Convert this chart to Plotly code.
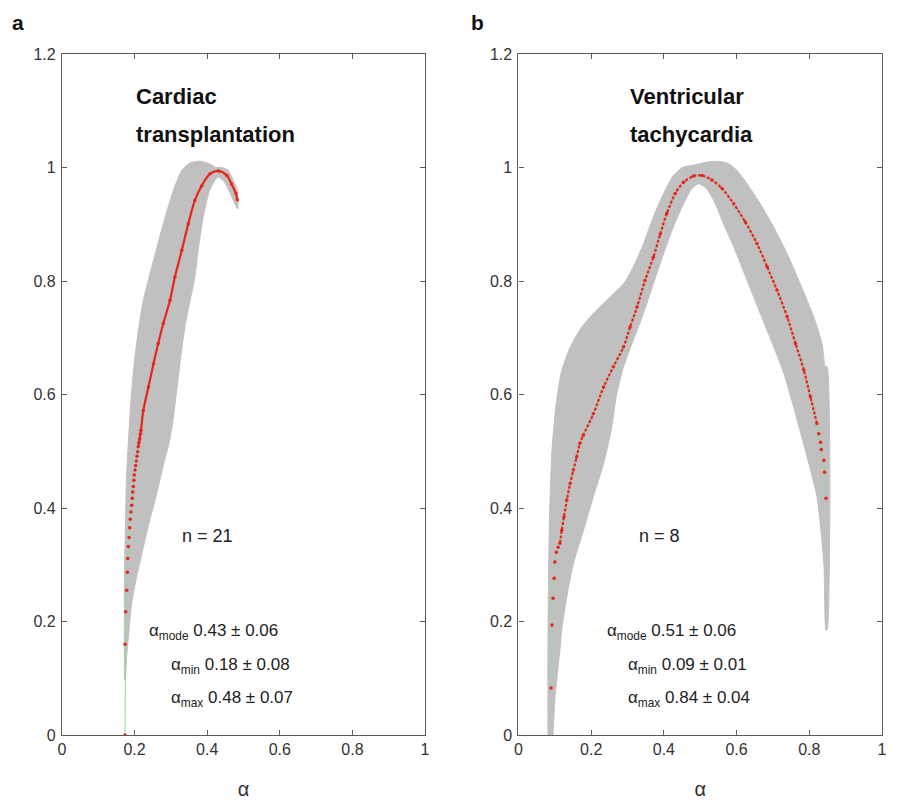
import plotly.graph_objects as go

# ---------------- data ----------------
# Panel a: Cardiac transplantation -- mean spectrum f(alpha)
alpha_a = [0.1736, 0.1736, 0.1755, 0.1782, 0.180, 0.181, 0.1826, 0.1846, 0.1865, 0.188,
           0.190, 0.192, 0.1937, 0.1948, 0.1964, 0.198, 0.199, 0.201, 0.203, 0.2047,
           0.2066, 0.2085, 0.210, 0.212, 0.214, 0.2157, 0.2176, 0.224, 0.238, 0.252,
           0.265, 0.279, 0.2975, 0.311, 0.330, 0.348, 0.366, 0.385, 0.408, 0.431,
           0.454, 0.467, 0.479, 0.483]
f_a = [0.0, 0.160, 0.217, 0.255, 0.287, 0.311, 0.332, 0.348, 0.365, 0.380,
       0.393, 0.405, 0.417, 0.428, 0.438, 0.449, 0.458, 0.467, 0.475, 0.483,
       0.491, 0.499, 0.508, 0.515, 0.522, 0.530, 0.537, 0.572, 0.613, 0.654,
       0.690, 0.725, 0.766, 0.807, 0.854, 0.901, 0.942, 0.968, 0.989, 0.994,
       0.986, 0.971, 0.954, 0.943]
dense_start_a = 22  # index from which dots merge into a continuous line

# Panel a: spread band (outer edge bottom->top->right end, inner edge right->bottom)
band_a_outer_alpha = [0.172, 0.172, 0.1745, 0.1775, 0.183, 0.187, 0.192, 0.201, 0.212, 0.224,
                      0.252, 0.279, 0.307, 0.330, 0.353, 0.380, 0.408, 0.424, 0.440,
                      0.458, 0.472, 0.483, 0.484]
band_a_outer_f = [0.097, 0.273, 0.361, 0.449, 0.520, 0.560, 0.607, 0.666, 0.720, 0.766,
                  0.836, 0.901, 0.960, 0.995, 1.008, 1.011, 1.006, 1.000, 1.000,
                  0.995, 0.977, 0.960, 0.927]
band_a_inner_alpha = [0.472, 0.458, 0.444, 0.431, 0.421, 0.408, 0.399, 0.389, 0.375, 0.366,
                      0.356, 0.340, 0.327, 0.316, 0.306, 0.295, 0.279, 0.261, 0.243, 0.229,
                      0.215, 0.204, 0.192, 0.183, 0.178, 0.175]
band_a_inner_f = [0.942, 0.962, 0.977, 0.983, 0.977, 0.962, 0.942, 0.913, 0.854, 0.807,
                  0.775, 0.725, 0.666, 0.607, 0.555, 0.515, 0.475, 0.425, 0.382, 0.345,
                  0.305, 0.275, 0.232, 0.173, 0.138, 0.097]

# Panel b: Ventricular tachycardia
alpha_b = [0.0895, 0.092, 0.095, 0.098, 0.100, 0.104, 0.109, 0.114, 0.119, 0.125,
           0.133, 0.142, 0.151, 0.160, 0.169, 0.178, 0.206, 0.234, 0.261, 0.289,
           0.307, 0.326, 0.348, 0.371, 0.390, 0.408, 0.431, 0.454, 0.482, 0.505,
           0.532, 0.560, 0.592, 0.624, 0.656, 0.684, 0.711, 0.739, 0.762, 0.785,
           0.803, 0.821, 0.826, 0.831, 0.833, 0.840, 0.842, 0.846]
f_b = [0.083, 0.194, 0.241, 0.276, 0.305, 0.322, 0.331, 0.338, 0.361, 0.384,
       0.414, 0.443, 0.467, 0.490, 0.514, 0.528, 0.566, 0.613, 0.649, 0.684,
       0.719, 0.754, 0.801, 0.842, 0.883, 0.919, 0.954, 0.974, 0.985, 0.986,
       0.978, 0.963, 0.936, 0.904, 0.866, 0.825, 0.784, 0.737, 0.690, 0.643,
       0.596, 0.549, 0.531, 0.516, 0.503, 0.484, 0.463, 0.417]
dense_start_b = 7
dense_end_b = 42

band_b_outer_alpha = [0.081, 0.081, 0.083, 0.086, 0.092, 0.103, 0.118, 0.140, 0.170, 0.206,
                      0.252, 0.289, 0.316, 0.344, 0.371, 0.399, 0.426, 0.454, 0.482, 0.500,
                      0.523, 0.546, 0.574, 0.601, 0.629, 0.665, 0.702, 0.739, 0.775, 0.812,
                      0.835, 0.844, 0.849, 0.849]
band_b_outer_f = [0.0, 0.150, 0.300, 0.400, 0.500, 0.580, 0.640, 0.680, 0.715, 0.743,
                  0.772, 0.795, 0.825, 0.866, 0.913, 0.954, 0.986, 1.001, 1.004, 1.007,
                  1.010, 1.011, 1.008, 0.995, 0.971, 0.936, 0.895, 0.848, 0.795, 0.737,
                  0.690, 0.649, 0.649, 0.185]
band_b_inner_alpha = [0.846, 0.840, 0.821, 0.794, 0.775, 0.757, 0.730, 0.702, 0.665, 0.629,
                      0.592, 0.564, 0.537, 0.514, 0.495, 0.477, 0.454, 0.426, 0.399, 0.371,
                      0.344, 0.316, 0.289, 0.270, 0.255, 0.234, 0.206, 0.179, 0.151, 0.133,
                      0.119, 0.114, 0.100, 0.095]
band_b_inner_f = [0.185, 0.302, 0.420, 0.490, 0.535, 0.578, 0.637, 0.684, 0.743, 0.801,
                  0.860, 0.901, 0.942, 0.965, 0.971, 0.963, 0.936, 0.895, 0.848, 0.795,
                  0.743, 0.696, 0.649, 0.600, 0.537, 0.478, 0.420, 0.361, 0.302, 0.244,
                  0.185, 0.150, 0.062, 0.0]

x_ticks = [0, 0.2, 0.4, 0.6, 0.8, 1]
x_tick_text = ["0", "0.2", "0.4", "0.6", "0.8", "1"]
y_ticks = [0, 0.2, 0.4, 0.6, 0.8, 1, 1.2]
y_tick_text = ["0", "0.2", "0.4", "0.6", "0.8", "1", "1.2"]

titles_a = ["Cardiac", "transplantation"]
titles_b = ["Ventricular", "tachycardia"]
n_a, n_b = 21, 8
stats_a = [("mode", "0.43 ± 0.06"), ("min", "0.18 ± 0.08"), ("max", "0.48 ± 0.07")]
stats_b = [("mode", "0.51 ± 0.06"), ("min", "0.09 ± 0.01"), ("max", "0.84 ± 0.04")]

# ---------------- styling ----------------
GREY = "#c0c0c0"
RED = "#e8241b"
GREEN = "#9fd49f"
AXC = "#5f5953"
FONT = "Liberation Sans, Arial, sans-serif"

fig = go.Figure()


def add_panel(xa, ya, alpha, f, ds, de, ob_a, ob_f, ib_a, ib_f, dash):
    fig.add_trace(go.Scatter(x=ob_a + ib_a, y=ob_f + ib_f, mode="lines", fill="toself",
                             fillcolor=GREY, line=dict(color=GREY, width=1, shape="spline",
                                                       smoothing=0.6),
                             xaxis=xa, yaxis=ya, hoverinfo="skip", showlegend=False))
    fig.add_trace(go.Scatter(x=alpha, y=f, mode="lines", line=dict(color=GREEN, width=1),
                             xaxis=xa, yaxis=ya, showlegend=False))
    fig.add_trace(go.Scatter(x=alpha[ds:de], y=f[ds:de], mode="lines",
                             line=dict(color=RED, width=2.2, dash=dash, shape="spline",
                                       smoothing=0.8),
                             xaxis=xa, yaxis=ya, showlegend=False))
    fig.add_trace(go.Scatter(x=alpha, y=f, mode="markers",
                             marker=dict(color=RED, size=3.5),
                             xaxis=xa, yaxis=ya, showlegend=False))


add_panel("x", "y", alpha_a, f_a, dense_start_a, len(alpha_a),
          band_a_outer_alpha, band_a_outer_f, band_a_inner_alpha, band_a_inner_f, "solid")
add_panel("x2", "y2", alpha_b, f_b, dense_start_b, dense_end_b,
          band_b_outer_alpha, band_b_outer_f, band_b_inner_alpha, band_b_inner_f, "3px,1.6px")

axis_common = dict(range=[0, 1], tickvals=x_ticks, ticktext=x_tick_text, ticks="inside",
                   ticklen=5, tickcolor=AXC, showline=True, linecolor=AXC, linewidth=1.2,
                   mirror="ticks", showgrid=False, zeroline=False, automargin=False,
                   tickfont=dict(family=FONT, size=16, color="#333"),
                   ticklabelstandoff=0,
                   title=dict(text="α", font=dict(family=FONT, size=20, color="#333"), standoff=31))
yaxis_common = dict(range=[0, 1.2], tickvals=y_ticks, ticktext=y_tick_text, ticks="inside",
                    ticklen=5, tickcolor=AXC, showline=True, linecolor=AXC, linewidth=1.2,
                    mirror="ticks", showgrid=False, zeroline=False, automargin=False,
                    tickfont=dict(family=FONT, size=16, color="#333"), ticklabelstandoff=2)

fig.update_layout(
    width=897, height=800,
    margin=dict(l=62, r=15, t=53.5, b=65),
    plot_bgcolor="white", paper_bgcolor="white",
    xaxis=dict(domain=[0, 0.4427], anchor="y", **axis_common),
    yaxis=dict(domain=[0, 1], anchor="x", **yaxis_common),
    xaxis2=dict(domain=[0.5567, 1.0], anchor="y2", **axis_common),
    yaxis2=dict(domain=[0, 1], anchor="x2", **yaxis_common),
    font=dict(family=FONT, color="#222"),
)

ann = []
# panel letters
ann.append(dict(text="<b>a</b>", xref="paper", yref="paper", x=-0.0537, y=1.046,
                xanchor="center", yanchor="middle", showarrow=False,
                font=dict(family=FONT, size=21, color="#111")))
ann.append(dict(text="<b>b</b>", xref="paper", yref="paper", x=0.507, y=1.046,
                xanchor="center", yanchor="middle", showarrow=False,
                font=dict(family=FONT, size=21, color="#111")))

for xr, yr, titles, tx, n, nx, stats, sx0, sx1 in [
    ("x", "y", titles_a, 0.199, n_a, 0.40, stats_a, 0.235, 0.2955),
    ("x2", "y2", titles_b, 0.302, n_b, 0.387, stats_b, 0.237, 0.297),
]:
    for t, ty in zip(titles, [1.125, 1.059]):
        ann.append(dict(text="<b>" + t + "</b>", xref=xr, yref=yr, x=tx, y=ty,
                        xanchor="left", yanchor="middle", showarrow=False,
                        font=dict(family=FONT, size=22, color="#111")))
    ann.append(dict(text="n = %d" % n, xref=xr, yref=yr, x=nx, y=0.351,
                    xanchor="center", yanchor="middle", showarrow=False,
                    font=dict(family=FONT, size=18, color="#222")))
    for (sub, val), sy, sx in zip(stats, [0.182, 0.122, 0.063], [sx0, sx1, sx1]):
        ann.append(dict(text="α<sub>%s</sub> %s" % (sub, val), xref=xr, yref=yr, x=sx, y=sy,
                        xanchor="left", yanchor="middle", showarrow=False,
                        font=dict(family=FONT, size=17, color="#222")))

fig.update_layout(annotations=ann)
fig.write_html("out.html")
